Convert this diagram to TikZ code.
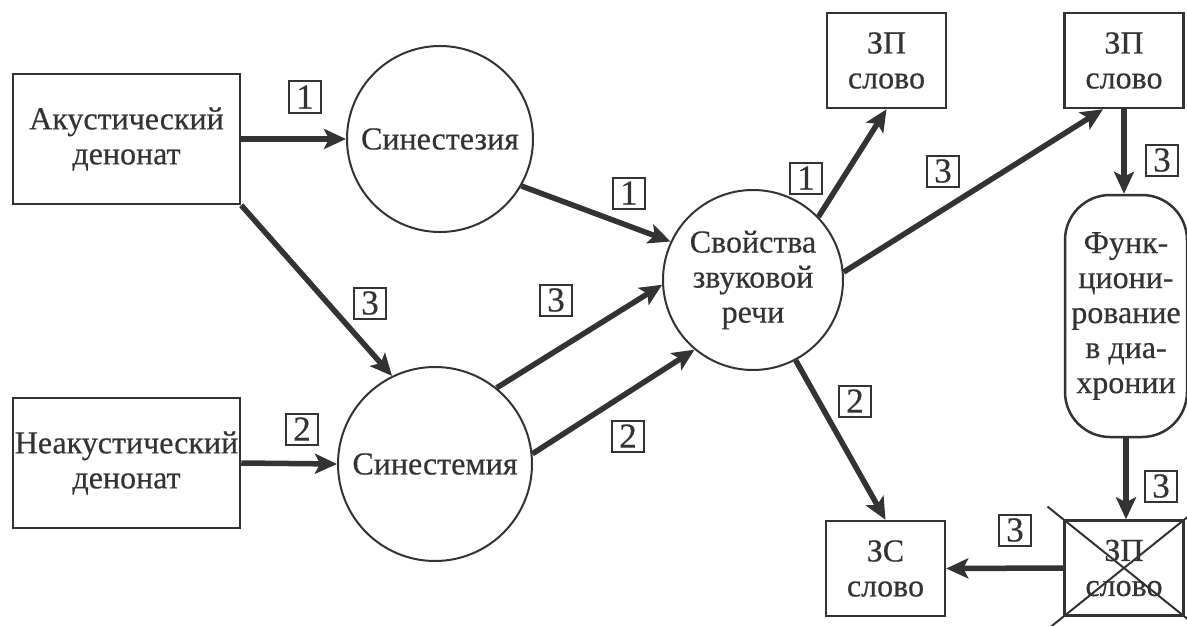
\documentclass[tikz,border=0pt]{standalone}
\usepackage{fontspec}
\setmainfont{Liberation Serif}[FakeBold=0.5]
\usetikzlibrary{arrows.meta,calc}
\definecolor{ink}{HTML}{333333}
\begin{document}
\begin{tikzpicture}[x=1pt,y=-1pt,
  every node/.style={font=\fontsize{32}{35}\selectfont, text=ink, align=center, inner sep=0pt},
  bigbox/.style={draw=ink,line width=2.5pt,minimum width=227pt,minimum height=130pt},
  smallbox/.style={draw=ink,line width=2.5pt,minimum width=119pt,minimum height=95pt},
  circ/.style={draw=ink,line width=2pt,circle},
  lbl/.style={draw=ink,line width=2pt,minimum width=32pt,minimum height=31pt,font=\fontsize{35}{35}\selectfont},
  arr/.style={draw=ink,line width=5.5pt,-{Stealth[length=22pt,width=20pt,inset=5pt]}}
]
\useasboundingbox (0,0) rectangle (1187,626);
\node[bigbox] (ak) at (126.5,139) {Акустический\\денонат};
\node[bigbox] (nak) at (126.5,463) {Неакустический\\денонат};
\node[circ,minimum size=186pt] (sz) at (440,139) {Синестезия};
\node[circ,minimum size=194pt] (sm) at (435,464) {Синестемия};
\node[circ,minimum size=180pt] (sv) at (753,280) {Свойства\\звуковой\\речи};
\node[smallbox] (zp1) at (886.5,60.5) {ЗП\\слово};
\node[smallbox] (zp2) at (1124,60.5) {ЗП\\слово};
\node[draw=ink,line width=2.5pt,rounded corners=45pt,minimum width=122pt,minimum height=242pt] (fn) at (1126,316) {Функ-\\циони-\\рование\\в диа-\\хронии};
\node[smallbox] (zs) at (885.5,568.5) {ЗС\\слово};
\node[smallbox] (zx) at (1124,568) {ЗП\\слово};
\draw[ink,line width=2pt] ($(zx.north west)!-0.13!(zx.south east)$) -- ($(zx.south east)!-0.13!(zx.north west)$);
\draw[ink,line width=2pt] ($(zx.south west)!-0.13!(zx.north east)$) -- ($(zx.north east)!-0.13!(zx.south west)$);

\draw[arr] (ak.east) -- (sz.west);
\draw[arr] (ak.south east) -- (sm.116);
\draw[arr] (nak.east) -- (sm.west);
\draw[arr] (sz.-30) -- (sv.155);
\draw[arr] (sm.51) -- (sv.183);
\draw[arr] (sm.6) -- (sv.230);
\draw[arr] (sv.44) -- (zp1.south);
\draw[arr] (sv.5) -- ([xshift=-21pt]zp2.south);
\draw[arr] (sv.-62) -- (zs.north);
\draw[arr] (zp2.south) -- (zp2.south |- fn.north);
\draw[arr] (fn.south) -- (fn.south |- zx.north);
\draw[arr] (zx.west) -- (zs.east);

\node[lbl] (l1) at (305,97) {1};
\node[lbl] (l2) at (629,193) {1};
\node[lbl] (l3) at (370,303) {3};
\node[lbl] (l4) at (556,300) {3};
\node[lbl] (l5) at (302,429) {2};
\node[lbl] (l6) at (628,436) {2};
\node[lbl] (l7) at (806,178) {1};
\node[lbl] (l8) at (943,171) {3};
\node[lbl] (l9) at (1162,160) {3};
\node[lbl] (l10) at (1161,486) {3};
\node[lbl] (l11) at (855,401) {2};
\node[lbl] (l12) at (1015,530) {3};
\end{tikzpicture}
\end{document}
